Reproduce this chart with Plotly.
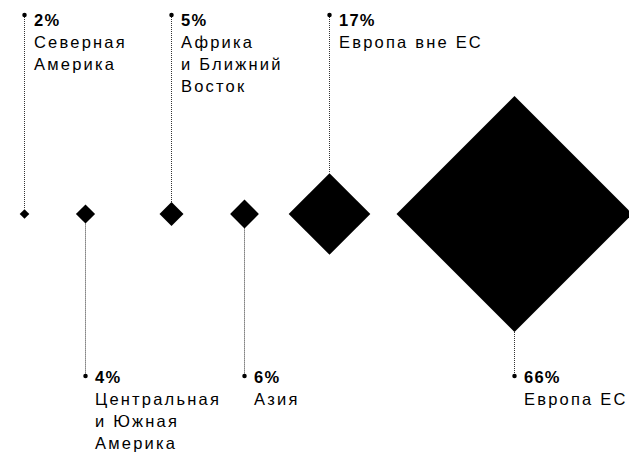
import plotly.graph_objects as go
import numpy as np

# --- data ---
percents = [2, 4, 5, 6, 17, 66]
regions = [
    ["Северная", "Америка"],
    ["Центральная", "и Южная", "Америка"],
    ["Африка", "и Ближний", "Восток"],
    ["Азия"],
    ["Европа вне ЕС"],
    ["Европа ЕС"],
]
x_centers = [24.5, 85.5, 171.5, 244.5, 329.5, 514.5]

# --- layout constants (axis units == window pixels) ---
W, H = 629, 452
Y_MID = 214
TOP_DOT = 15
BOT_DOT = 376
TEXT_DX = 8.5
LINE_H = 22
FONT = "Arial, Liberation Sans, sans-serif"
REG_STYLE = "letter-spacing:2.2px"
BOLD_STYLE = "letter-spacing:1.2px"

# linear size scale (clamped): half-diagonal in px
vals = np.array(percents, dtype=float)
half_diag = np.minimum(vals * 2.4, 118)
marker_size = 2 * half_diag / 1.3

fig = go.Figure()

annotations = []
for i, (p, lines, xc, hd) in enumerate(zip(percents, regions, x_centers, half_diag)):
    top = (i % 2 == 0)
    if top:
        y0, y1 = TOP_DOT, Y_MID - hd
        text_y0 = TOP_DOT + 5
        dot_y = TOP_DOT
    else:
        y0, y1 = Y_MID + hd, BOT_DOT
        text_y0 = BOT_DOT + 1
        dot_y = BOT_DOT
    fig.add_trace(go.Scatter(
        x=[xc, xc], y=[y0, y1], mode="lines",
        line=dict(color="#333333", width=1, dash="1px,1px"),
        hoverinfo="skip"))
    fig.add_trace(go.Scatter(
        x=[xc], y=[dot_y], mode="markers",
        marker=dict(symbol="circle", size=4.5, color="black", opacity=1, line=dict(width=0)),
        hoverinfo="skip"))
    annotations.append(dict(
        x=xc + TEXT_DX, y=text_y0, xref="x", yref="y",
        text=f"<span style='{BOLD_STYLE}'><b>{p}%</b></span>",
        showarrow=False, xanchor="left", yanchor="middle",
        font=dict(family=FONT, size=16.5, color="black"), borderpad=0))
    for j, ln in enumerate(lines):
        annotations.append(dict(
            x=xc + TEXT_DX, y=text_y0 + LINE_H * (j + 1), xref="x", yref="y",
            text=f"<span style='{REG_STYLE}'>{ln}</span>",
            showarrow=False, xanchor="left", yanchor="middle",
            font=dict(family=FONT, size=16.5, color="black"), borderpad=0))

fig.add_trace(go.Scatter(
    x=x_centers, y=[Y_MID] * len(x_centers), mode="markers",
    marker=dict(symbol="diamond", size=marker_size, sizemode="diameter",
                color="black", opacity=1, line=dict(width=0)),
    hovertemplate="%{text}<extra></extra>",
    text=[f"{p}%" for p in percents]))

fig.update_layout(
    width=W, height=H,
    margin=dict(l=0, r=0, t=0, b=0),
    paper_bgcolor="white", plot_bgcolor="white",
    showlegend=False,
    xaxis=dict(range=[0, W], visible=False, fixedrange=True),
    yaxis=dict(range=[H, 0], visible=False, fixedrange=True),
    annotations=annotations,
)

fig.write_html(
    "out.html",
    config={"displayModeBar": False},
    post_script="document.body.style.margin='0';document.body.style.overflow='hidden';",
)
